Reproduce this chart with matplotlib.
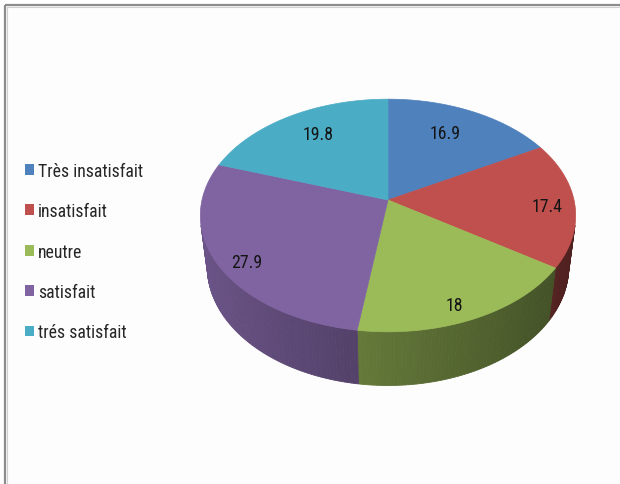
import numpy as np
import matplotlib
matplotlib.use("Agg")
import matplotlib.pyplot as plt
from matplotlib.patches import Polygon, Patch, Rectangle
import matplotlib.colors as mcolors
from matplotlib import font_manager

# ---- data -------------------------------------------------------------
categories = ["Très insatisfait", "insatisfait", "neutre", "satisfait", "trés satisfait"]
values = [16.9, 17.4, 18, 27.9, 19.8]
value_labels = ["16.9", "17.4", "18", "27.9", "19.8"]
colors = ["#4f81bd", "#c0504d", "#9bbb59", "#8064a2", "#4bacc6"]

# ---- fonts: prefer a narrow face when one is installed -----------------
available = {f.name for f in font_manager.fontManager.ttflist}
narrow = [n for n in ("Liberation Sans Narrow", "Noto Sans Condensed",
                      "Roboto Condensed", "Open Sans Condensed")
          if n in available]
if narrow:
    FAMILY = [narrow[0], "DejaVu Sans"]
    FS = 12.8
else:
    FAMILY = ["Lato", "DejaVu Sans"]
    FS = 12.0
plt.rcParams["font.family"] = FAMILY

# ---- figure / canvas in pixel units -----------------------------------
W, H = 620, 485
fig = plt.figure(figsize=(W / 100, H / 100), dpi=100, facecolor="white")
ax = fig.add_axes([0, 0, 1, 1])
ax.set_xlim(0, W)
ax.set_ylim(H, 0)
ax.axis("off")

# chart area background and its border (top + left edges)
ax.add_patch(Rectangle((5, 6), W, H, facecolor="#fdfdfd", edgecolor="none", zorder=0))
ax.plot([5, W], [6, 6], color="#8c8c8c", lw=1.6, zorder=0.5, solid_capstyle="butt")
ax.plot([5, 5], [6, H], color="#8c8c8c", lw=1.6, zorder=0.5, solid_capstyle="butt")
ax.plot([6.5, W], [7.5, 7.5], color="#d0d0d0", lw=0.8, zorder=0.5)
ax.plot([6.5, 6.5], [7.5, H], color="#d0d0d0", lw=0.8, zorder=0.5)

# ---- 3-D pie projection -----------------------------------------------
CX, CY = 388.0, 201.0          # projected pie centre
DIST = 5.93                    # camera distance (pie radii)
ELEV = np.radians(37.9)        # camera elevation
FOCAL = 186.0 * DIST
THICK = 0.365                  # slab thickness (pie radii)


def project(theta, r=1.0, z=0.0):
    """theta clockwise from 12 o'clock; z up (0 = top face)."""
    u = r * np.sin(theta)
    v = r * np.cos(theta)
    depth = DIST + v * np.cos(ELEV) - z * np.sin(ELEV)
    x = CX + FOCAL * u / depth
    y = CY - FOCAL * (v * np.sin(ELEV) + z * np.cos(ELEV)) / depth
    return x, y


fracs = np.array(values, dtype=float) / np.sum(values)
bounds = np.concatenate([[0.0], np.cumsum(fracs)]) * 2 * np.pi

# range of the rim whose side wall faces the camera
vis_lo = np.arccos(-1.0 / (DIST * np.cos(ELEV)))
vis_hi = 2 * np.pi - vis_lo


def side_shade(theta):
    return 0.62 - 0.22 * np.sin(theta)


# side walls
for i, col in enumerate(colors):
    a0, a1 = max(bounds[i], vis_lo), min(bounds[i + 1], vis_hi)
    if a1 <= a0:
        continue
    n = max(2, int(np.degrees(a1 - a0)) + 1)
    ts = np.linspace(a0, a1, n)
    base = np.array(mcolors.to_rgb(col))
    for t0, t1 in zip(ts[:-1], ts[1:]):
        xt0, yt0 = project(t0)
        xt1, yt1 = project(t1)
        xb1, yb1 = project(t1, z=-THICK)
        xb0, yb0 = project(t0, z=-THICK)
        c = np.clip(base * side_shade(0.5 * (t0 + t1)), 0, 1)
        ax.add_patch(Polygon([[xt0, yt0], [xt1, yt1], [xb1, yb1], [xb0, yb0]],
                             closed=True, facecolor=c, edgecolor=c, lw=0.6,
                             zorder=1))

# top faces
for i, col in enumerate(colors):
    ts = np.linspace(bounds[i], bounds[i + 1], 120)
    xs, ys = project(ts)
    pts = np.column_stack([np.concatenate([[CX], xs]), np.concatenate([[CY], ys])])
    ax.add_patch(Polygon(pts, closed=True, facecolor=col, edgecolor=col,
                         lw=0.5, zorder=2))

# value labels
label_frac = [0.68, 0.85, 0.77, 0.83, 0.71]
label_yscale = 1.13
for i, txt in enumerate(value_labels):
    mid = 0.5 * (bounds[i] + bounds[i + 1])
    rx, ry = project(mid)
    lx = CX + label_frac[i] * (rx - CX)
    ly = CY + label_frac[i] * label_yscale * (ry - CY)
    ax.text(lx, ly + 0.36 * FS * 100 / 72, txt, ha="center", va="baseline",
            fontsize=FS, color="#141414", zorder=3)

# legend: rows 40.4 px apart, centred on y = 252.5 px
handles = [Patch(facecolor=c, edgecolor="none") for c in colors]
ROW_PX = 40.4
LEG_CENTER_Y = 252.5
text_px = FS * 100 / 72


def make_legend(spacing):
    return ax.legend(handles, categories, loc="center left",
                     bbox_to_anchor=(25, LEG_CENTER_Y),
                     bbox_transform=ax.transData, frameon=False, fontsize=FS,
                     handlelength=9 / text_px, handleheight=10 / text_px,
                     handletextpad=4 / text_px, labelspacing=spacing,
                     borderpad=0, borderaxespad=0, labelcolor="#262626")


spacing = 1.0
leg = make_legend(spacing)
for _ in range(3):
    fig.canvas.draw()
    ys = [t.get_window_extent().y0 for t in leg.get_texts()]
    measured = -np.mean(np.diff(ys))
    spacing += (ROW_PX - measured) / text_px
    leg.remove()
    leg = make_legend(spacing)

fig.savefig("out.png", dpi=100, facecolor="white")
